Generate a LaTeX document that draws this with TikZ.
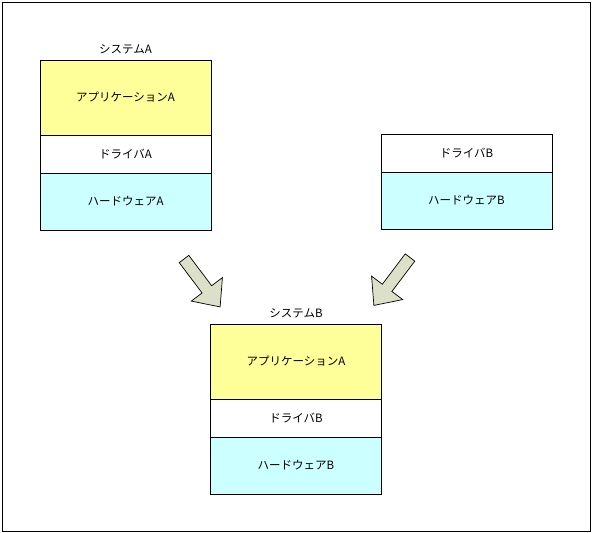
\documentclass[tikz,border=0pt]{standalone}
\usepackage{fontspec}
\newfontfamily\jpfont{Noto Sans CJK JP}
\usepackage{tikz}
\usetikzlibrary{positioning}

\definecolor{appyellow}{RGB}{255,255,153}
\definecolor{hwcyan}{RGB}{204,255,255}
\definecolor{arrowgray}{RGB}{221,224,200}

\begin{document}
\begin{tikzpicture}[
		x=1pt, y=-1pt,
		layer/.style={rectangle, draw, line width=0.8pt, minimum width=171pt, inner sep=0pt, outer sep=0pt, font=\jpfont\fontsize{11.5}{13}\selectfont},
		appbox/.style={layer, fill=appyellow, minimum height=75pt},
		drvbox/.style={layer, fill=white, minimum height=38pt},
		hwbox/.style={layer, fill=hwcyan, minimum height=57pt},
		syslabel/.style={inner sep=2pt, font=\jpfont\fontsize{11.5}{13}\selectfont},
		pics/blockarrow/.style={code={
			\draw[fill=arrowgray, line width=0.7pt, line join=miter]
				(0,-6) -- (38,-6) -- (38,-19.5) -- (60,0) -- (38,19.5) -- (38,6) -- (0,6) -- cycle;
		}},
	]

	\useasboundingbox (0,0) rectangle (592,533);
	\draw[line width=0.9pt] (2,2) rectangle (590,531);

	% System A
	\node[appbox] (appA) at (125.5,97.5) {アプリケーションA};
	\node[drvbox, below=0pt of appA] (drvA) {ドライバA};
	\node[hwbox, below=0pt of drvA] (hwA) {ハードウェアA};
	\node[syslabel, above=4pt of appA] (sysA) {システムA};

	% new driver and hardware
	\node[drvbox] (drvB) at (466.5,153) {ドライバB};
	\node[hwbox, below=0pt of drvB] (hwB) {ハードウェアB};

	% System B
	\node[appbox] (appB) at (296,361.5) {アプリケーションA};
	\node[drvbox, below=0pt of appB] (drvBB) {ドライバB};
	\node[hwbox, below=0pt of drvBB] (hwBB) {ハードウェアB};
	\node[syslabel, above=4pt of appB] (sysB) {システムB};

	% block arrows towards System B
	\coordinate (tailL) at (184,259);
	\coordinate (tailR) at (410,257.5);
	\pic[rotate=-53] at (tailL) {blockarrow};
	\pic[rotate=-127] at (tailR) {blockarrow};

\end{tikzpicture}
\end{document}
